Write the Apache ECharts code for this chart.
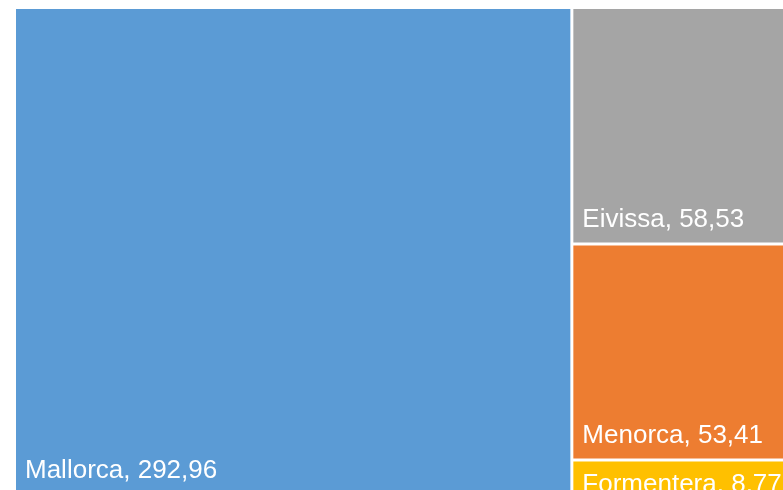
<!DOCTYPE html>
<html>
<head>
<meta charset="utf-8">
<script src="https://cdn.jsdelivr.net/npm/echarts@6/dist/echarts.min.js"></script>
<style>
  html, body { margin: 0; padding: 0; background: #fff; }
  #chart { width: 783px; height: 490px; }
</style>
</head>
<body>
<div id="chart"></div>
<script>
  // islas y valores
  var islands = ['Mallorca', 'Eivissa', 'Menorca', 'Formentera'];
  var values = [292.96, 58.53, 53.41, 8.77];
  var colors = ['#5B9BD5', '#A5A5A5', '#ED7D31', '#FFC000'];

  function fmt(v) {
    return v.toFixed(2).replace('.', ',');
  }

  var data = islands.map(function (name, i) {
    var item = {
      name: name,
      value: values[i],
      itemStyle: { color: colors[i] }
    };
    if (name === 'Formentera') {
      item.label = { padding: [0, 0, 0, 9], offset: [0, 4] };
    }
    return item;
  });

  var myChart = echarts.init(document.getElementById('chart'));
  myChart.setOption({
    animation: false,
    series: [{
      type: 'treemap',
      left: 16,
      top: 9,
      width: 784,
      height: 485,
      roam: false,
      nodeClick: false,
      breadcrumb: { show: false },
      itemStyle: {
        borderWidth: 0,
        gapWidth: 3,
        borderColor: '#fff'
      },
      label: {
        show: true,
        position: 'insideBottomLeft',
        distance: 0,
        padding: [0, 0, 10, 9],
        color: '#fff',
        fontFamily: 'Liberation Sans, Arial, sans-serif',
        fontSize: 26,
        overflow: 'none',
        formatter: function (p) {
          return p.name + ', ' + fmt(p.value);
        }
      },
      data: data
    }]
  });
</script>
</body>
</html>
